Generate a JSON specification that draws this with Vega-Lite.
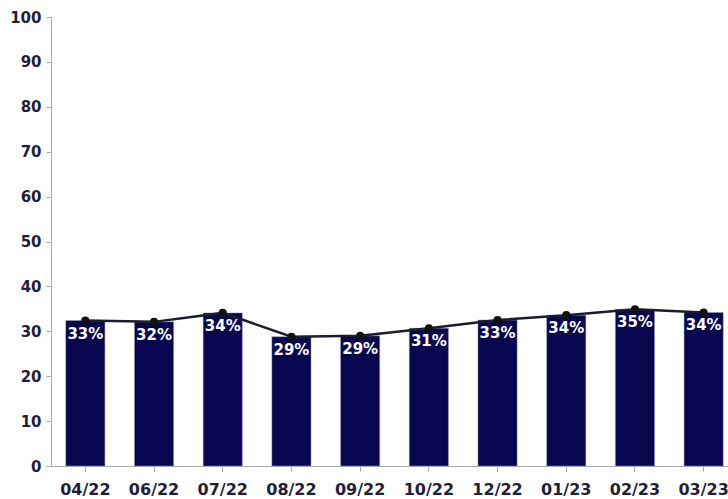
{
  "$schema": "https://vega.github.io/schema/vega-lite/v6.json",
  "autosize": "none",
  "width": 687,
  "height": 449,
  "padding": {"left": 51, "top": 17, "right": 0, "bottom": 33},
  "background": "white",
  "config": {"view": {"stroke": null}, "font": "DejaVu Sans"},
  "data": {"values": [
    {"month": "04/22", "value": 32.4, "label": "33%"},
    {"month": "06/22", "value": 32.1, "label": "32%"},
    {"month": "07/22", "value": 34.1, "label": "34%"},
    {"month": "08/22", "value": 28.8, "label": "29%"},
    {"month": "09/22", "value": 29.0, "label": "29%"},
    {"month": "10/22", "value": 30.7, "label": "31%"},
    {"month": "12/22", "value": 32.5, "label": "33%"},
    {"month": "01/23", "value": 33.6, "label": "34%"},
    {"month": "02/23", "value": 34.9, "label": "35%"},
    {"month": "03/23", "value": 34.2, "label": "34%"}
  ]},
  "encoding": {
    "x": {"field": "month", "type": "nominal", "sort": null,
      "scale": {"paddingInner": 0.43, "paddingOuter": 0.215},
      "axis": {"title": null, "labelAngle": 0, "labelFontSize": 16, "labelFontWeight": "bold", "labelColor": "#1f1f3a", "domainColor": "#aaaaaa", "tickColor": "#aaaaaa", "tickSize": 5, "labelPadding": 10, "grid": false}}
  },
  "layer": [
    {"mark": {"type": "bar", "color": "#08064f", "stroke": "#9a9ac0", "strokeWidth": 0.5},
     "encoding": {"y": {"field": "value", "type": "quantitative",
       "scale": {"domain": [0, 100], "nice": false},
       "axis": {"title": null, "values": [0,10,20,30,40,50,60,70,80,90,100], "labelFontSize": 15, "labelFontWeight": "bold", "labelColor": "#1f1f3a", "domainColor": "#aaaaaa", "tickColor": "#aaaaaa", "tickSize": 5, "labelPadding": 5, "grid": false}}}},
    {"mark": {"type": "line", "color": "#1c1c2e", "strokeWidth": 2.5, "interpolate": "linear"},
     "encoding": {"y": {"field": "value", "type": "quantitative"}}},
    {"mark": {"type": "point", "filled": true, "color": "#111111", "size": 65, "opacity": 1},
     "encoding": {"y": {"field": "value", "type": "quantitative"}}},
    {"mark": {"type": "text", "color": "white", "fontSize": 15, "fontWeight": "bold", "baseline": "top", "dy": 6},
     "encoding": {"y": {"field": "value", "type": "quantitative"}, "text": {"field": "label"}}}
  ]
}
